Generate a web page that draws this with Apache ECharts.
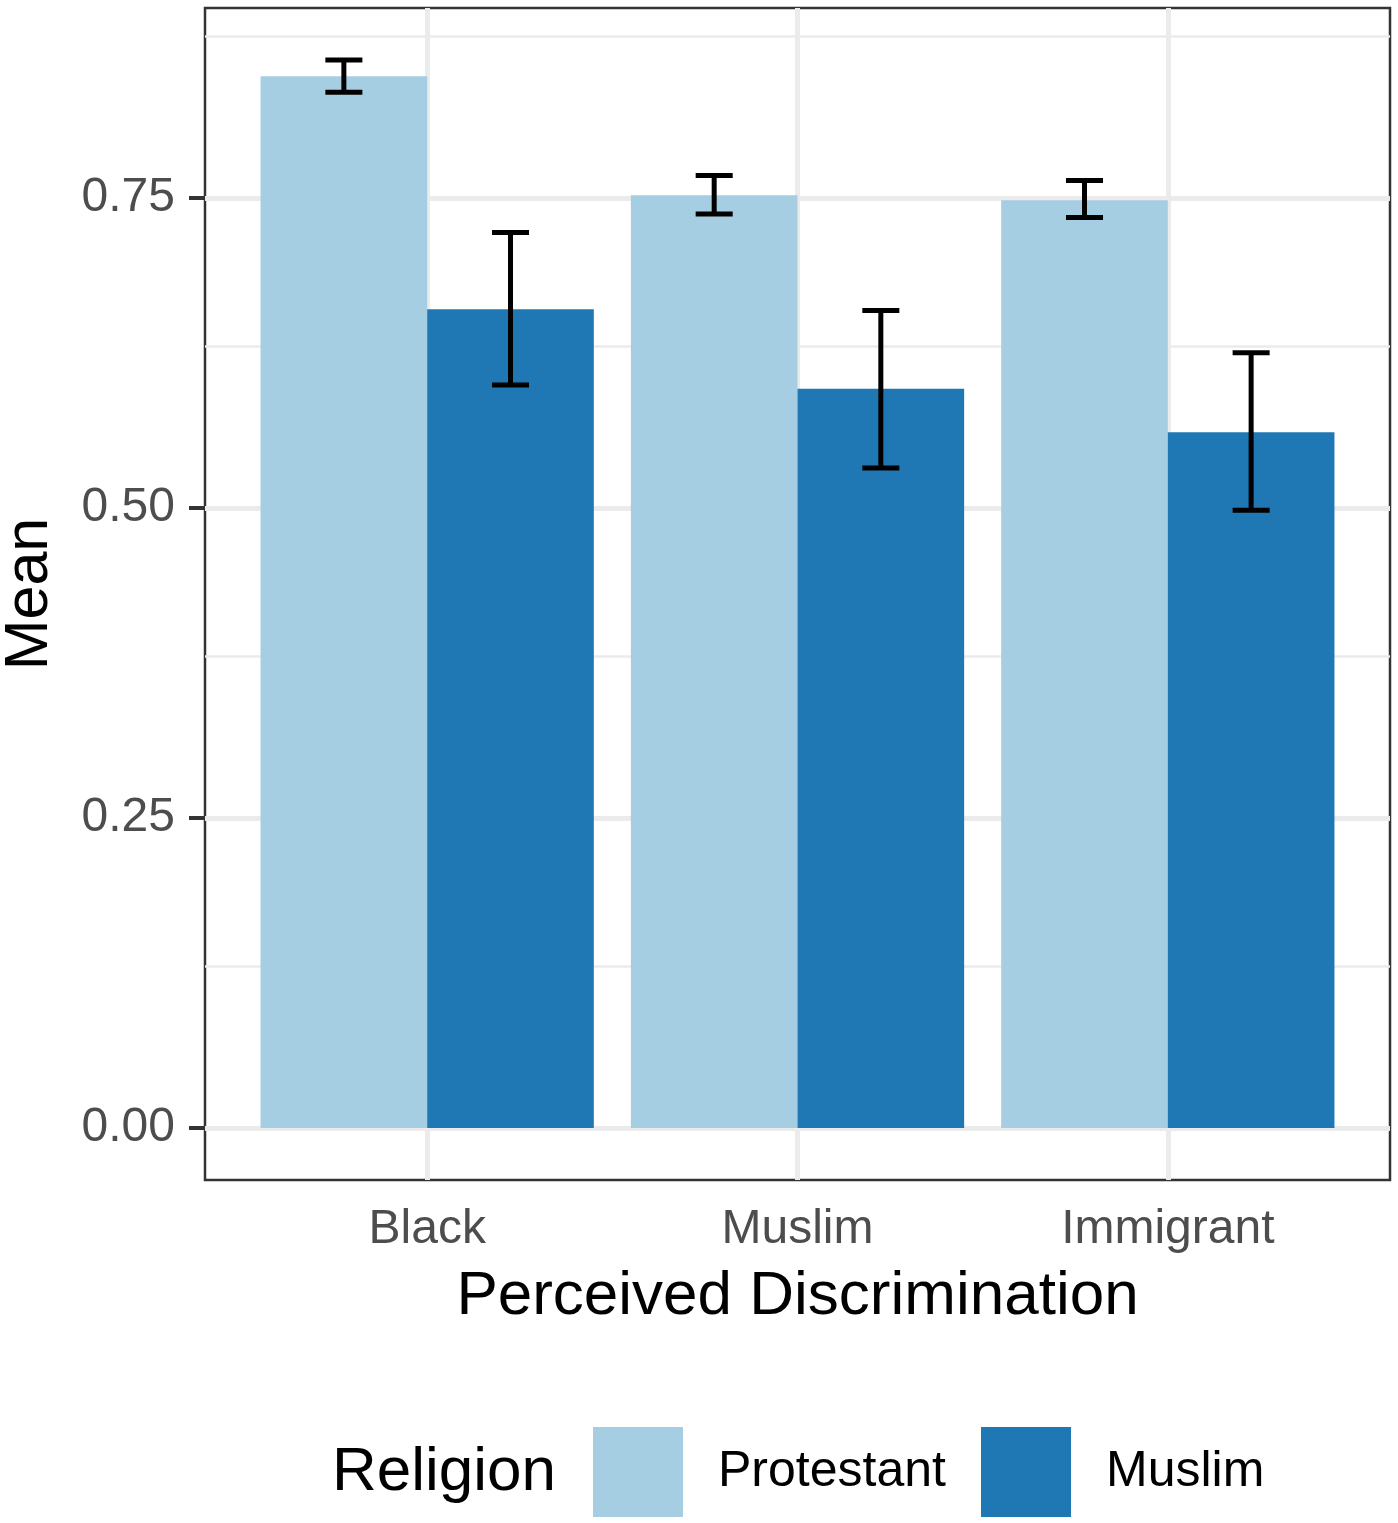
<!DOCTYPE html>
<html>
<head>
<meta charset="utf-8">
<script src="https://cdn.jsdelivr.net/npm/echarts@6/dist/echarts.min.js"></script>
<style>
  html, body { margin: 0; padding: 0; background: #fff; }
  #chart { width: 1398px; height: 1523px; }
</style>
</head>
<body>
<div id="chart"></div>
<script>
// 数据
const categories = ['Black', 'Muslim', 'Immigrant'];
const groups = ['Protestant', 'Muslim'];
const protestantMean = [0.848, 0.752, 0.748];
const protestantLow = [0.835, 0.737, 0.734];
const protestantHigh = [0.861, 0.768, 0.764];
const muslimMean = [0.660, 0.596, 0.561];
const muslimLow = [0.599, 0.532, 0.498];
const muslimHigh = [0.722, 0.659, 0.625];

const yTicks = [0, 0.25, 0.5, 0.75];
const yMinorLines = [0.125, 0.375, 0.625, 0.875];
const xTicks = [1, 2, 3];

const colors = ['#A6CEE3', '#1F78B4'];
const font = "'Liberation Sans', Arial, sans-serif";

const chartDom = document.getElementById('chart');
const myChart = echarts.init(chartDom);

// 并列柱的偏移（ggplot dodge, width 0.9）
const halfBar = 0.225;
const dodge = [-0.225, 0.225];

function barRenderer(gi) {
    return function(params, api) {
        const x = api.value(0) + dodge[gi];
        const p0 = api.coord([x - halfBar, api.value(1)]);
        const p1 = api.coord([x + halfBar, 0]);
        return {
            type: 'rect',
            shape: { x: p0[0], y: p0[1], width: p1[0] - p0[0], height: p1[1] - p0[1] },
            style: { fill: colors[gi] }
        };
    };
}

function errRenderer(params, api) {
    const x = api.value(0);
    const capHalf = 0.05;
    const lo = api.coord([x, api.value(1)]);
    const hi = api.coord([x, api.value(2)]);
    const l = api.coord([x - capHalf, 0])[0];
    const r = api.coord([x + capHalf, 0])[0];
    const st = { stroke: '#000', lineWidth: 5 };
    return {
        type: 'group',
        children: [
            { type: 'line', shape: { x1: lo[0], y1: lo[1], x2: hi[0], y2: hi[1] }, style: st },
            { type: 'line', shape: { x1: l, y1: hi[1], x2: r, y2: hi[1] }, style: st },
            { type: 'line', shape: { x1: l, y1: lo[1], x2: r, y2: lo[1] }, style: st }
        ]
    };
}

const protData = categories.map((c, i) => [i + 1, protestantMean[i]]);
const musData = categories.map((c, i) => [i + 1, muslimMean[i]]);
const errData = [];
categories.forEach((c, i) => {
    errData.push([i + 1 + dodge[0], protestantLow[i], protestantHigh[i]]);
    errData.push([i + 1 + dodge[1], muslimLow[i], muslimHigh[i]]);
});

const gridLine = { color: '#EBEBEB', width: 5, type: 'solid' };
const gridMinor = { color: '#EBEBEB', width: 2.5, type: 'solid' };

const option = {
    animation: false,
    textStyle: { fontFamily: font },
    grid: {
        left: 205, right: 8, top: 8, bottom: 343,
        outerBoundsMode: 'none',
        containLabel: false,
        show: true, backgroundColor: '#fff',
        borderColor: '#333333', borderWidth: 2.5
    },
    xAxis: {
        type: 'value',
        min: 0.4, max: 3.6,
        name: 'Perceived Discrimination',
        nameLocation: 'middle',
        nameGap: 86,
        nameTextStyle: { fontSize: 62, color: '#000', fontFamily: font },
        axisLine: { show: false },
        splitLine: { show: false },
        axisTick: { show: true, customValues: xTicks, length: 16, lineStyle: { color: '#333333', width: 4 } },
        axisLabel: {
            customValues: xTicks,
            margin: 26,
            fontSize: 48,
            color: '#4D4D4D',
            fontFamily: font,
            formatter: v => categories[Math.round(v) - 1]
        }
    },
    yAxis: {
        type: 'value',
        min: -0.042, max: 0.903,
        name: 'Mean',
        nameLocation: 'middle',
        nameGap: 144,
        nameTextStyle: { fontSize: 61, color: '#000', fontFamily: font },
        axisLine: { show: false },
        splitLine: { show: false },
        axisTick: { show: true, customValues: yTicks, length: 16, lineStyle: { color: '#333333', width: 4 } },
        axisLabel: {
            customValues: yTicks,
            margin: 30,
            fontSize: 48,
            color: '#4D4D4D',
            fontFamily: font,
            formatter: v => v.toFixed(2)
        }
    },
    legend: [{
        data: [{ name: groups[0], icon: 'rect' }],
        left: 593, top: 1427, padding: 0,
        itemWidth: 90, itemHeight: 90,
        textStyle: { fontSize: 50, color: '#000', fontFamily: font, padding: [0, 0, 0, 30] }
    }, {
        data: [{ name: groups[1], icon: 'rect' }],
        left: 981, top: 1427, padding: 0,
        itemWidth: 90, itemHeight: 90,
        textStyle: { fontSize: 50, color: '#000', fontFamily: font, padding: [0, 0, 0, 30] }
    }],
    graphic: [{
        type: 'text',
        left: 332, top: 1442,
        style: { text: 'Religion', fontSize: 62, fill: '#000', fontFamily: font }
    }],
    series: [{
        // 网格线
        type: 'line',
        data: [],
        silent: true,
        markLine: {
            z: 1,
            silent: true,
            symbol: 'none',
            label: { show: false },
            data: [
                ...yMinorLines.map(v => ({ yAxis: v, lineStyle: gridMinor })),
                ...yTicks.map(v => ({ yAxis: v, lineStyle: gridLine })),
                ...xTicks.map(v => ({ xAxis: v, lineStyle: gridLine }))
            ]
        }
    }, {
        name: groups[0],
        type: 'custom',
        z: 3,
        itemStyle: { color: colors[0] },
        renderItem: barRenderer(0),
        data: protData
    }, {
        name: groups[1],
        type: 'custom',
        z: 3,
        itemStyle: { color: colors[1] },
        renderItem: barRenderer(1),
        data: musData
    }, {
        type: 'custom',
        z: 4,
        renderItem: errRenderer,
        data: errData
    }]
};

myChart.setOption(option);

window.addEventListener('resize', function() {
    myChart.resize();
});
</script>
</body>
</html>
